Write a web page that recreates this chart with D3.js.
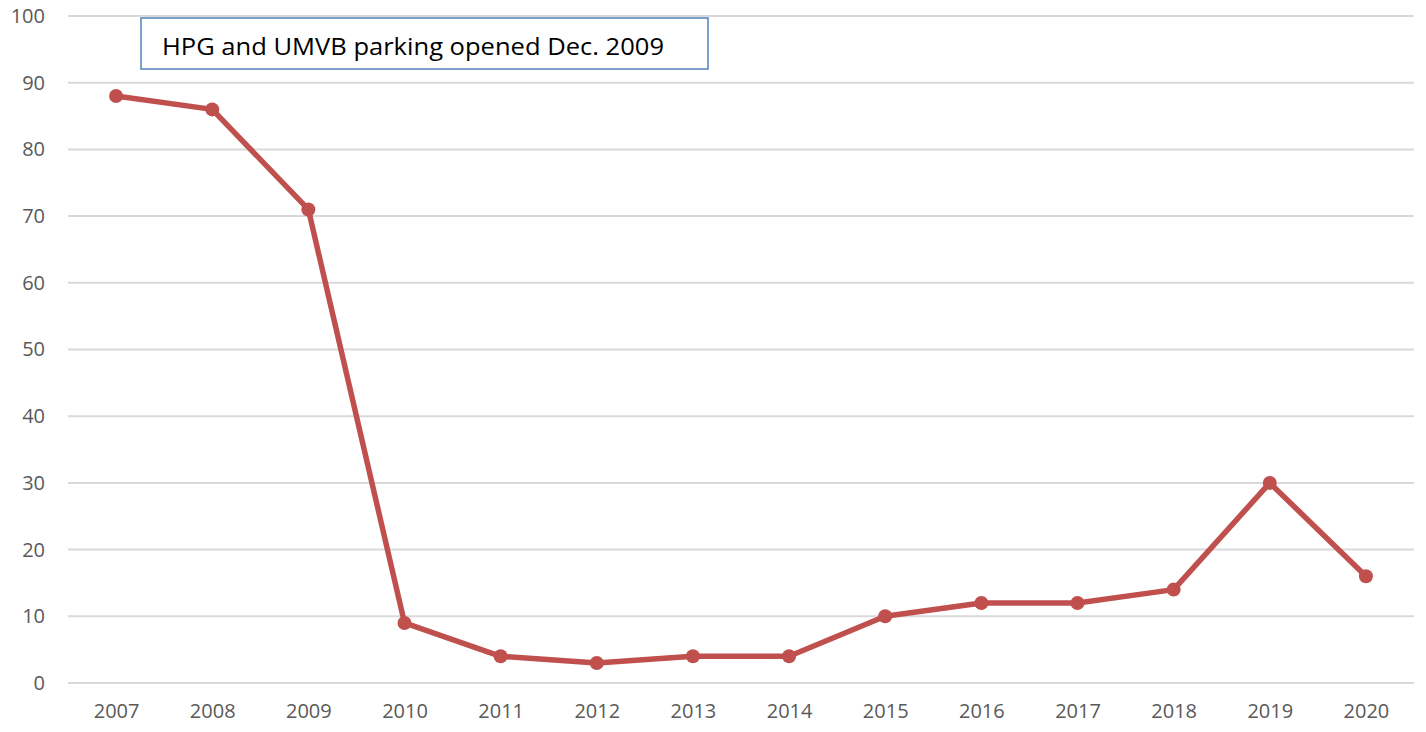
<!DOCTYPE html>
<html>
<head>
<meta charset="utf-8">
<script src="https://cdn.jsdelivr.net/npm/d3@7"></script>
<style>
  html, body { margin: 0; padding: 0; background: #fff; overflow: hidden; }
  #chart svg { display: block; }
  #chart text { font-family: "Open Sans", "Noto Sans", sans-serif; }
</style>
</head>
<body>
<div id="chart"></div>
<script>
// --------------------------------------
//  Data
// --------------------------------------
const years = ["2007", "2008", "2009", "2010", "2011", "2012", "2013", "2014", "2015", "2016", "2017", "2018", "2019", "2020"];
const counts = [88, 86, 71, 9, 4, 3, 4, 4, 10, 12, 12, 14, 30, 16];
const yTicks = [0, 10, 20, 30, 40, 50, 60, 70, 80, 90, 100];
const note = "HPG and UMVB parking opened Dec. 2009";

// --------------------------------------
//  Margin and canvas
// --------------------------------------
const margin = {top: 16, right: 12, bottom: 49, left: 68};
const width = 1426;
const height = 732;
const innerWidth = width - margin.left - margin.right;
const innerHeight = height - margin.top - margin.bottom;

const svg = d3.select("#chart")
  .append("svg")
    .attr("width", width)
    .attr("height", height);

const inner = svg.append("g")
    .attr("transform", `translate(${margin.left}, ${margin.top})`);

// --------------------------------------
//  Scales
// --------------------------------------
const x = d3.scalePoint()
    .domain(years)
    .range([0, innerWidth])
    .padding(0.5);

const y = d3.scaleLinear()
    .domain([0, 100])
    .range([innerHeight, 0]);

// --------------------------------------
//  Axes and grid
// --------------------------------------
inner.append("g")
  .selectAll("line")
  .data(yTicks)
  .join("line")
    .attr("x1", 0)
    .attr("x2", innerWidth)
    .attr("y1", d => y(d))
    .attr("y2", d => y(d))
    .attr("stroke", "#d9d9d9")
    .attr("stroke-width", 2);

const yAxis = inner.append("g")
    .call(d3.axisLeft(y).tickValues(yTicks).tickSize(0).tickPadding(23));
yAxis.select(".domain").remove();
yAxis.selectAll("text")
    .attr("fill", "#595959")
    .style("font-size", "20px");

const xAxis = inner.append("g")
    .attr("transform", `translate(0, ${innerHeight})`)
    .call(d3.axisBottom(x).tickSize(0).tickPadding(21));
xAxis.select(".domain").remove();
xAxis.selectAll("text")
    .attr("fill", "#595959")
    .style("font-size", "20px");

// --------------------------------------
//  Line and markers
// --------------------------------------
const line = d3.line()
    .x((d, i) => x(years[i]))
    .y(d => y(d));

inner.append("path")
    .datum(counts)
    .attr("d", line)
    .attr("fill", "none")
    .attr("stroke", "#c0504d")
    .attr("stroke-width", 5.5)
    .attr("stroke-linejoin", "round");

inner.append("g")
  .selectAll("circle")
  .data(counts)
  .join("circle")
    .attr("cx", (d, i) => x(years[i]))
    .attr("cy", d => y(d))
    .attr("r", 7)
    .attr("fill", "#c0504d");

// --------------------------------------
//  Annotation box
// --------------------------------------
svg.append("rect")
    .attr("x", 141)
    .attr("y", 18)
    .attr("width", 567)
    .attr("height", 51)
    .attr("fill", "#fff")
    .attr("stroke", "#4f81bd")
    .attr("stroke-width", 1.5);

svg.append("text")
    .attr("x", 162)
    .attr("y", 55)
    .attr("fill", "#000")
    .attr("textLength", 502)
    .attr("lengthAdjust", "spacingAndGlyphs")
    .style("font-size", "24px")
    .text(note);
</script>
</body>
</html>
